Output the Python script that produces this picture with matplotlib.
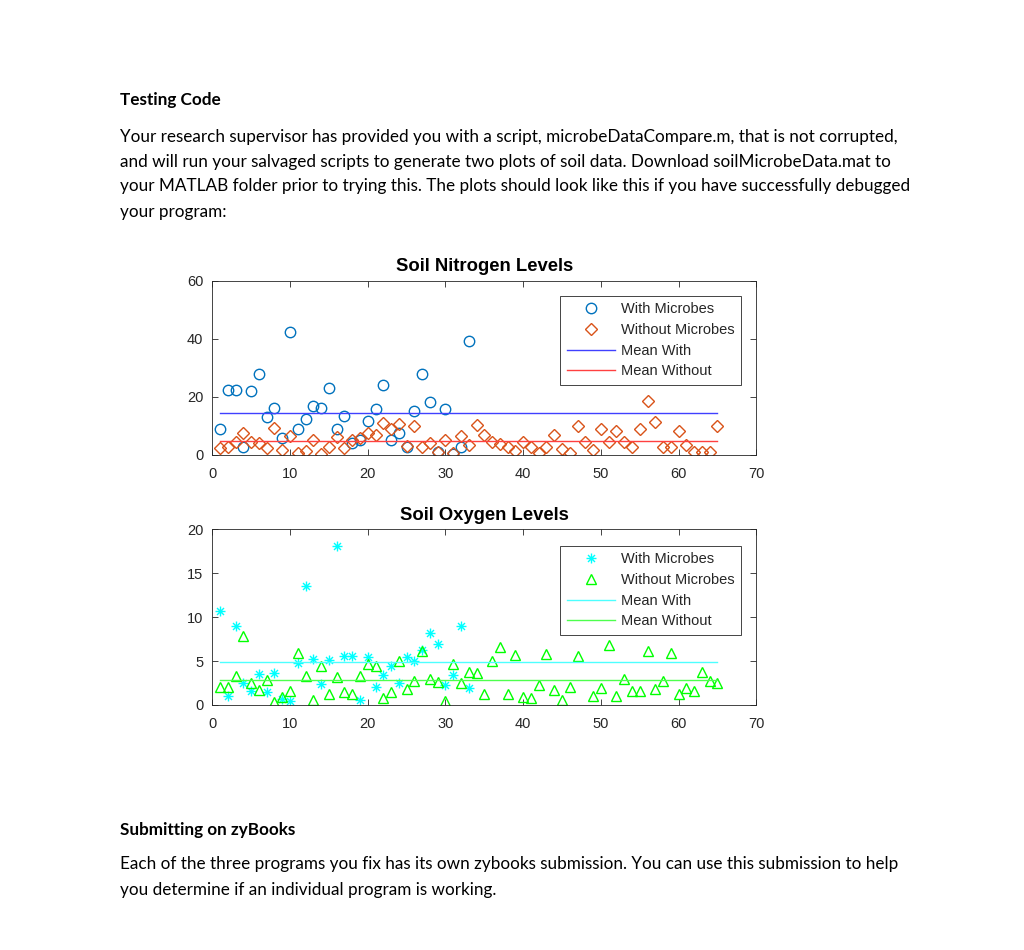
import numpy as np
import matplotlib
matplotlib.use("Agg")
import matplotlib.pyplot as plt
from matplotlib.path import Path

# ---------------- data ----------------
nitrogen_with = [8.9, 22.3, 22.3, 2.7, 22.0, 27.7, 13.0, 16.1, 5.8, 42.3,
                 8.9, 12.5, 16.7, 16.1, 23.0, 8.9, 13.3, 4.0, 5.0, 11.8,
                 15.9, 24.2, 5.0, 7.7, 2.9, 15.2, 27.7, 18.1, 1.2, 15.9,
                 0.3, 2.9, 39.3]
nitrogen_without = [2.3, 2.7, 4.6, 7.5, 4.3, 4.0, 2.3, 9.2, 1.7, 6.6,
                    0.8, 1.5, 5.0, 0.3, 2.7, 6.3, 2.3, 5.2, 5.8, 7.5,
                    6.9, 11.0, 8.9, 10.5, 3.2, 10.0, 2.7, 4.0, 1.2, 5.0,
                    0.6, 6.7, 3.5, 10.4, 6.9, 4.6, 3.7, 2.7, 1.5, 4.6,
                    2.9, 0.6, 2.7, 6.9, 2.0, 0.6, 9.8, 4.6, 1.7, 8.9,
                    4.3, 8.3, 4.6, 2.9, 8.9, 18.5, 11.2, 2.9, 2.9, 8.1,
                    3.5, 1.2, 1.2, 1.2, 9.8]
oxygen_with = [10.7, 1.0, 9.0, 2.5, 1.6, 3.5, 1.45, 3.6, 0.65, 0.5,
               4.75, 13.5, 5.2, 2.35, 5.1, 18.1, 5.6, 5.6, 0.6, 5.5,
               2.1, 3.4, 4.4, 2.5, 5.5, 5.0, 6.3, 8.2, 6.9, 2.3,
               3.4, 9.0, 1.9]
# sample 48 is not visible in the picture (hidden behind the legend)
oxygen_without = [2.0, 2.0, 3.3, 7.8, 2.5, 1.7, 2.9, 0.3, 0.95, 1.6,
                  5.9, 3.3, 0.57, 4.4, 1.3, 3.15, 1.5, 1.2, 3.3, 4.7,
                  4.4, 0.8, 1.5, 5.0, 1.8, 2.7, 6.1, 3.0, 2.6, 0.4,
                  4.7, 2.5, 3.8, 3.6, 1.3, 5.0, 6.6, 1.3, 5.7, 0.9,
                  0.8, 2.3, 5.8, 1.7, 0.6, 2.0, 5.6, np.nan, 1.0, 1.9,
                  6.8, 1.0, 3.0, 1.6, 1.6, 6.1, 1.8, 2.7, 5.9, 1.3,
                  1.9, 1.6, 3.7, 2.7, 2.5]

legend_labels = ["With Microbes", "Without Microbes", "Mean With", "Mean Without"]
titles = ["Soil Nitrogen Levels", "Soil Oxygen Levels"]
x_ticks = [0, 10, 20, 30, 40, 50, 60, 70]
y_ticks_n = [0, 20, 40, 60]
y_ticks_o = [0, 5, 10, 15, 20]

heading1 = "Testing Code"
para1 = ["Your research supervisor has provided you with a script, microbeDataCompare.m, that is not corrupted,",
         "and will run your salvaged scripts to generate two plots of soil data. Download soilMicrobeData.mat to",
         "your MATLAB folder prior to trying this. The plots should look like this if you have successfully debugged",
         "your program:"]
heading2 = "Submitting on zyBooks"
para2 = ["Each of the three programs you fix has its own zybooks submission. You can use this submission to help",
         "you determine if an individual program is working."]

# ---------------- figure ----------------
W, H = 1024, 950
fig = plt.figure(figsize=(W / 100, H / 100), dpi=100)
fig.patch.set_facecolor("white")

body_font = ["Lato", "DejaVu Sans"]
txt_color = "#000000"

def fy(py):
    return 1 - py / H

# fit body font size so the first three lines match their widths in total
target = 785 + 777 + 777
fig.canvas.draw()
total = 0
for line in para1[:3]:
    t = fig.text(0, 0, line, fontsize=11, family=body_font)
    total += t.get_window_extent(fig.canvas.get_renderer()).width
    t.remove()
body_fs = 11 * target / total

fig.text(120 / W, fy(99.5), heading1, fontsize=body_fs, family=body_font,
         fontweight="bold", va="center", ha="left", color=txt_color)
for i, line in enumerate(para1):
    fig.text(120 / W, fy(136.5 + 25 * i), line, fontsize=body_fs, family=body_font,
             va="center", ha="left", color=txt_color)
fig.text(120 / W, fy(829.5), heading2, fontsize=body_fs, family=body_font,
         fontweight="bold", va="center", ha="left", color=txt_color)
for i, line in enumerate(para2):
    fig.text(120 / W, fy(864.5 + 25 * i), line, fontsize=body_fs, family=body_font,
             va="center", ha="left", color=txt_color)

# MATLAB-like asterisk marker
ast = Path([(0, -1), (0, 1), (-1, 0), (1, 0), (-0.7, -0.7), (0.7, 0.7), (-0.7, 0.7), (0.7, -0.7)],
           [Path.MOVETO, Path.LINETO] * 4)

plot_font = ["Liberation Sans", "DejaVu Sans"]
axc = (0.15, 0.15, 0.15)
tick_fs = 10.5

ax_left, ax_right = 212.3, 756.3
ax1 = fig.add_axes([ax_left / W, fy(455), (ax_right - ax_left) / W, (455 - 280.5) / H])
ax2 = fig.add_axes([ax_left / W, fy(705), (ax_right - ax_left) / W, (705 - 529.3) / H])

def style(ax, yt, ylim, title):
    ax.set_xlim(0, 70)
    ax.set_ylim(*ylim)
    ax.set_xticks(x_ticks)
    ax.set_yticks(yt)
    ax.tick_params(direction="in", top=True, right=True, length=4, width=0.6,
                   colors=axc, labelsize=tick_fs)
    ax.tick_params(axis="x", pad=8.5)
    ax.tick_params(axis="y", pad=6.5)
    for lab in ax.get_xticklabels() + ax.get_yticklabels():
        lab.set_family(plot_font)
    for s in ax.spines.values():
        s.set_color(axc)
        s.set_linewidth(0.6)
    ax.set_title(title, fontsize=13.3, fontweight="bold", family=plot_font,
                 color="black", pad=7)

def draw(ax, with_vals, without_vals, m1, c1, m2, c2, lc1, lc2, ms1, ms2, yt, ylim, title, ytop):
    xw = np.arange(1, len(with_vals) + 1)
    xo = np.arange(1, len(without_vals) + 1)
    ax.plot(xw, with_vals, linestyle="none", marker=m1, mfc="none", mec=c1, ms=ms1, mew=1.0)
    ax.plot(xo, without_vals, linestyle="none", marker=m2, mfc="none", mec=c2, ms=ms2, mew=1.0)
    mw = np.nanmean(with_vals)
    mo = np.nanmean(without_vals)
    ax.plot([xo[0], xo[-1]], [mw, mw], color=lc1, lw=1.0)
    ax.plot([xo[0], xo[-1]], [mo, mo], color=lc2, lw=1.0)
    style(ax, yt, ylim, title)
    leg = ax.legend(legend_labels, loc="upper right", bbox_to_anchor=(0.972, ytop),
                    frameon=True, fancybox=False, edgecolor=axc, framealpha=1,
                    prop={"family": plot_font, "size": tick_fs}, handlelength=3.3,
                    handletextpad=0.4, labelspacing=0.46, borderpad=0.45,
                    borderaxespad=0)
    leg.get_frame().set_linewidth(0.6)
    for t in leg.get_texts():
        t.set_color(axc)
    leg.set_zorder(10)

draw(ax1, nitrogen_with, nitrogen_without, "o", (0.0, 0.447, 0.741), "D", (0.85, 0.325, 0.098),
     (0.25, 0.25, 1.0), (1.0, 0.25, 0.25), 7.5, 6.0, y_ticks_n, (0, 60), titles[0], 0.913)
draw(ax2, oxygen_with, oxygen_without, ast, (0.0, 1.0, 1.0), "^", (0.0, 1.0, 0.0),
     (0.3, 1.0, 1.0), (0.3, 1.0, 0.3), 7.2, 7.8, y_ticks_o, (0, 20), titles[1], 0.907)

fig.savefig("out.png", dpi=100, facecolor="white")
